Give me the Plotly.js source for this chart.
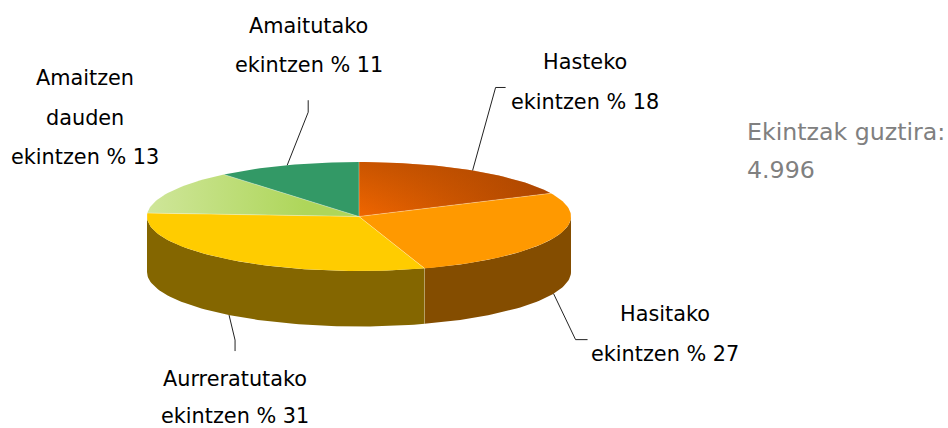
<!DOCTYPE html>
<html><head><meta charset="utf-8">
<script src="https://cdn.plot.ly/plotly-3.0.1.min.js"></script>
<style>html,body{margin:0;padding:0;background:#fff}</style></head>
<body><div id="chart" style="width:948px;height:428px"></div>
<script>
// Data
const categories = ['Hasteko ekintzen', 'Hasitako ekintzen', 'Aurreratutako ekintzen', 'Amaitzen dauden ekintzen', 'Amaitutako ekintzen'];
const values = [18, 27, 31, 13, 11];
const labelLines = [['Hasteko','ekintzen % 18'],['Hasitako','ekintzen % 27'],['Aurreratutako','ekintzen % 31'],['Amaitzen','dauden','ekintzen % 13'],['Amaitutako','ekintzen % 11']];
const totalLines = ['Ekintzak guztira:', '4.996'];

// Style and layout
const topColors = ['#FF9900','#FF9900','#FFCC00','#AED65A','#339966'];
const sideColors = ['#854D00','#844D00','#846600','#6F8A3A','#226644'];
const labelX = [585,665,235,85,308.5];
const labelY = [[62,102],[314,354],[379,415.5],[78,118,157],[26,65]];
const cx = 359, cy = 216.5, rx = 212, ry = 54.5, depth = 55.5;
const leaderBend = [[[23,-83],[33,-83]],[[22,46],[34,46]],[[6,25],[6,36]],null,[[21,-53],[21,-65]]];
const FONT = 'DejaVu Sans';

const pt = (deg, dy=0) => {const a = deg*Math.PI/180; return [cx+rx*Math.sin(a), cy-ry*Math.cos(a)+dy];};
const arc = (a,b,dy=0) => {const r=[]; const n=Math.max(2,Math.ceil((b-a)/1.5)); for(let i=0;i<=n;i++) r.push(pt(a+(b-a)*i/n,dy)); return r;};

let traces = [], shapes = [], annotations = [];
let acc = 0;
const slices = values.map(v => {const s=acc*3.6; acc+=v; return [s, acc*3.6];});

// sides
slices.forEach(([a,b],i)=>{
  const s=Math.max(a,90), e=Math.min(b,270);
  if(e<=s) return;
  const poly = arc(s,e,0).concat(arc(s,e,depth).reverse());
  poly.push(poly[0]);
  traces.push({type:'scatter',mode:'lines',x:poly.map(p=>p[0]),y:poly.map(p=>p[1]),fill:'toself',fillcolor:sideColors[i],line:{width:0,color:sideColors[i]},hoverinfo:'skip'});
});
// tops
slices.forEach(([a,b],i)=>{
  const poly=[[cx,cy]].concat(arc(a,b)); poly.push([cx,cy]);
  const tr={type:'scatter',mode:'lines',x:poly.map(p=>p[0]),y:poly.map(p=>p[1]),fill:'toself',fillcolor:topColors[i],line:{width:0,color:topColors[i]},hoverinfo:'skip'};
  if(i===0){
    tr.fillgradient={type:'horizontal',start:cx,stop:cx+rx*0.88,colorscale:[[0,'#F06600'],[1,'#B04800']]};
  }
  if(i===3){
    tr.fillgradient={type:'horizontal',start:cx-rx,stop:cx-rx*0.25,colorscale:[[0,'#CFE69A'],[1,'#AED65A']]};
  }
  traces.push(tr);
  if(i===0){
    traces.push({type:'scatter',mode:'lines',x:tr.x,y:tr.y,fill:'toself',line:{width:0},hoverinfo:'skip',
      fillgradient:{type:'vertical',start:cy,stop:cy-ry,colorscale:[[0,'rgba(170,70,0,0)'],[1,'rgba(170,70,0,0.55)']]}});
  }
});
// spokes: thin light seams between slices
slices.forEach(([a])=>{
  const p=pt(a);
  traces.push({type:'scatter',mode:'lines',x:[cx,p[0]],y:[cy,p[1]],line:{width:0.7,color:'rgba(255,255,255,0.45)'},hoverinfo:'skip'});
});
// seam on the side between the two visible side faces
{
  const p=pt(slices[2][0]);
  traces.push({type:'scatter',mode:'lines',x:[p[0],p[0]],y:[p[1],p[1]+depth],line:{width:0.7,color:'rgba(255,255,255,0.3)'},hoverinfo:'skip'});
}
// leader lines (drawn from each slice's mid angle)
slices.forEach(([a,b],i)=>{
  if(!leaderBend[i]) return;
  const mid=(a+b)/2, onFront = mid>90 && mid<270;
  const p=pt(mid, onFront?depth:0);
  const xs=[p[0]], ys=[p[1]];
  leaderBend[i].forEach(o=>{xs.push(p[0]+o[0]); ys.push(p[1]+o[1]);});
  traces.push({type:'scatter',mode:'lines',x:xs,y:ys,line:{width:1,color:'#222'},hoverinfo:'skip'});
});
// labels
labelLines.forEach((lines,i)=>lines.forEach((t,j)=>{
  annotations.push({x:labelX[i],y:labelY[i][j],xref:'x',yref:'y',text:t,showarrow:false,xanchor:'center',yanchor:'middle',font:{family:FONT,size:20.8,color:'#000'}});
}));
totalLines.forEach((t,j)=>{
  annotations.push({x:745,y:[132,170][j],xref:'x',yref:'y',text:t,showarrow:false,xanchor:'left',yanchor:'middle',font:{family:FONT,size:23.7,color:'#808080'}});
});

Plotly.newPlot('chart',traces,{
  width:948,height:428,margin:{l:0,r:0,t:0,b:0},showlegend:false,hovermode:false,
  paper_bgcolor:'#fff',plot_bgcolor:'#fff',
  xaxis:{range:[0,948],visible:false,fixedrange:true},
  yaxis:{range:[428,0],visible:false,fixedrange:true},
  shapes,annotations
},{displayModeBar:false,staticPlot:true});
</script></body></html>
